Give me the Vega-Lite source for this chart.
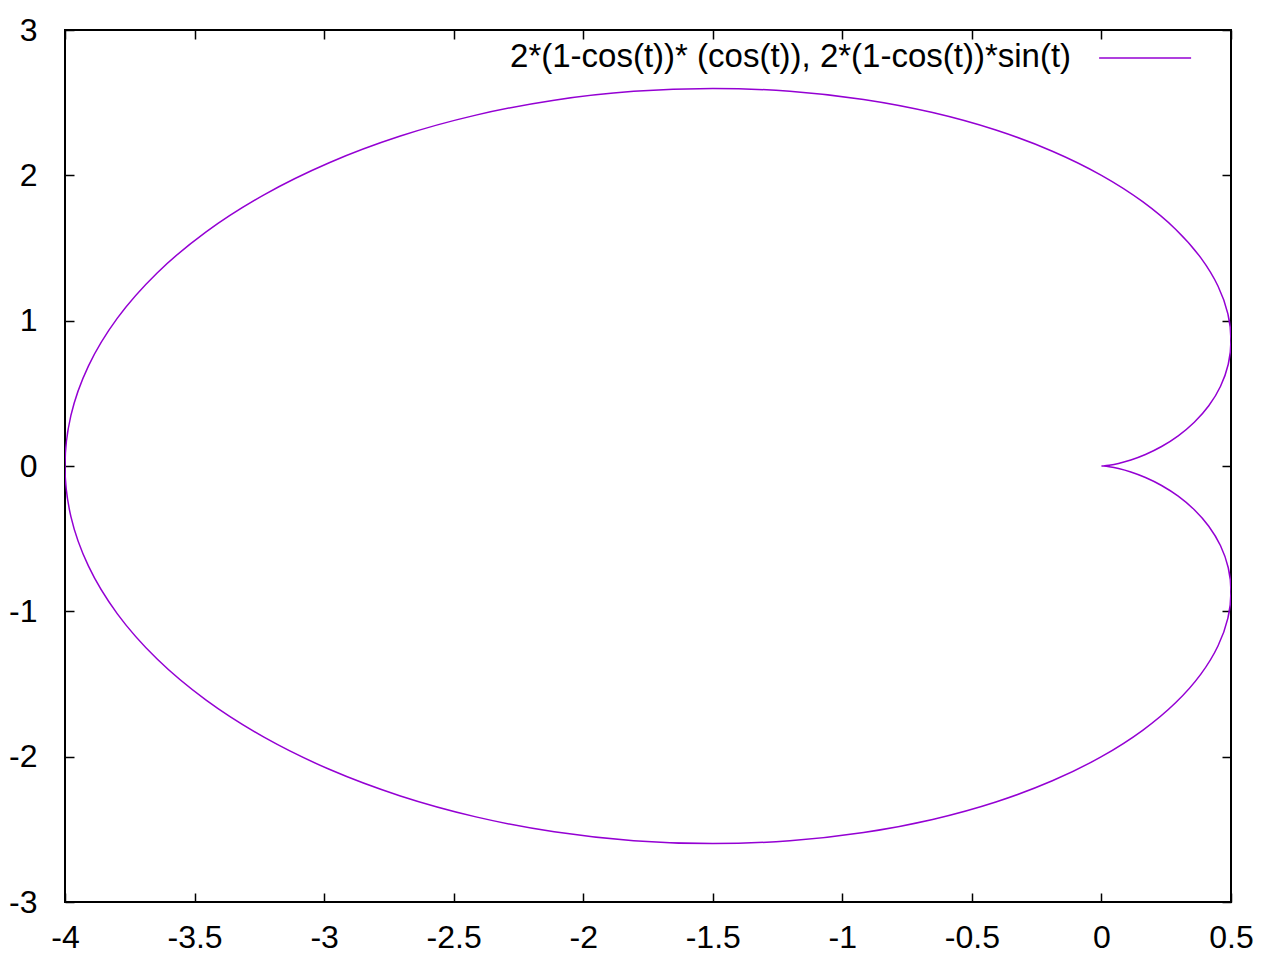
{
  "$schema": "https://vega.github.io/schema/vega-lite/v6.json",
  "width": 1166,
  "height": 872,
  "autosize": {"type": "none"},
  "padding": {"left": 65, "top": 30, "right": 39, "bottom": 58},
  "background": "white",
  "config": {
    "view": {"stroke": "black", "strokeWidth": 2},
    "font": "Liberation Sans",
    "axis": {
      "grid": false,
      "domain": false,
      "tickColor": "black",
      "tickWidth": 1.5,
      "tickSize": -9,
      "labelFont": "Liberation Sans",
      "labelFontSize": 32,
      "labelColor": "black",
      "labelFlush": false,
      "labelOverlap": false,
      "labelBound": false,
      "title": null
    }
  },
  "datasets": {
    "curve": [
      {"i": 0, "x": 0, "y": 0},
      {"i": 1, "x": 0.0076, "y": 0.0007},
      {"i": 2, "x": 0.0299, "y": 0.0053},
      {"i": 3, "x": 0.0658, "y": 0.0176},
      {"i": 4, "x": 0.1134, "y": 0.0413},
      {"i": 5, "x": 0.1698, "y": 0.0792},
      {"i": 6, "x": 0.2321, "y": 0.134},
      {"i": 7, "x": 0.2963, "y": 0.2075},
      {"i": 8, "x": 0.3584, "y": 0.3008},
      {"i": 9, "x": 0.4142, "y": 0.4142},
      {"i": 10, "x": 0.4592, "y": 0.5473},
      {"i": 11, "x": 0.4892, "y": 0.6986},
      {"i": 12, "x": 0.5, "y": 0.866},
      {"i": 13, "x": 0.488, "y": 1.0466},
      {"i": 14, "x": 0.4501, "y": 1.2366},
      {"i": 15, "x": 0.3837, "y": 1.4319},
      {"i": 16, "x": 0.287, "y": 1.6276},
      {"i": 17, "x": 0.1591, "y": 1.8187},
      {"i": 18, "x": 0, "y": 2},
      {"i": 19, "x": -0.1895, "y": 2.166},
      {"i": 20, "x": -0.4076, "y": 2.3117},
      {"i": 21, "x": -0.6516, "y": 2.4319},
      {"i": 22, "x": -0.918, "y": 2.5222},
      {"i": 23, "x": -1.2025, "y": 2.5787},
      {"i": 24, "x": -1.5, "y": 2.5981},
      {"i": 25, "x": -1.8051, "y": 2.578},
      {"i": 26, "x": -2.1119, "y": 2.5169},
      {"i": 27, "x": -2.4142, "y": 2.4142},
      {"i": 28, "x": -2.7057, "y": 2.2704},
      {"i": 29, "x": -2.9803, "y": 2.0869},
      {"i": 30, "x": -3.2321, "y": 1.866},
      {"i": 31, "x": -3.4554, "y": 1.6113},
      {"i": 32, "x": -3.6454, "y": 1.3268},
      {"i": 33, "x": -3.7979, "y": 1.0176},
      {"i": 34, "x": -3.9093, "y": 0.6893},
      {"i": 35, "x": -3.9772, "y": 0.348},
      {"i": 36, "x": -4, "y": 0},
      {"i": 37, "x": -3.9772, "y": -0.348},
      {"i": 38, "x": -3.9093, "y": -0.6893},
      {"i": 39, "x": -3.7979, "y": -1.0176},
      {"i": 40, "x": -3.6454, "y": -1.3268},
      {"i": 41, "x": -3.4554, "y": -1.6113},
      {"i": 42, "x": -3.2321, "y": -1.866},
      {"i": 43, "x": -2.9803, "y": -2.0869},
      {"i": 44, "x": -2.7057, "y": -2.2704},
      {"i": 45, "x": -2.4142, "y": -2.4142},
      {"i": 46, "x": -2.1119, "y": -2.5169},
      {"i": 47, "x": -1.8051, "y": -2.578},
      {"i": 48, "x": -1.5, "y": -2.5981},
      {"i": 49, "x": -1.2025, "y": -2.5787},
      {"i": 50, "x": -0.918, "y": -2.5222},
      {"i": 51, "x": -0.6516, "y": -2.4319},
      {"i": 52, "x": -0.4076, "y": -2.3117},
      {"i": 53, "x": -0.1895, "y": -2.166},
      {"i": 54, "x": 0, "y": -2},
      {"i": 55, "x": 0.1591, "y": -1.8187},
      {"i": 56, "x": 0.287, "y": -1.6276},
      {"i": 57, "x": 0.3837, "y": -1.4319},
      {"i": 58, "x": 0.4501, "y": -1.2366},
      {"i": 59, "x": 0.488, "y": -1.0466},
      {"i": 60, "x": 0.5, "y": -0.866},
      {"i": 61, "x": 0.4892, "y": -0.6986},
      {"i": 62, "x": 0.4592, "y": -0.5473},
      {"i": 63, "x": 0.4142, "y": -0.4142},
      {"i": 64, "x": 0.3584, "y": -0.3008},
      {"i": 65, "x": 0.2963, "y": -0.2075},
      {"i": 66, "x": 0.2321, "y": -0.134},
      {"i": 67, "x": 0.1698, "y": -0.0792},
      {"i": 68, "x": 0.1134, "y": -0.0413},
      {"i": 69, "x": 0.0658, "y": -0.0176},
      {"i": 70, "x": 0.0299, "y": -0.0053},
      {"i": 71, "x": 0.0076, "y": -0.0007},
      {"i": 72, "x": 0, "y": 0}
    ],
    "legend": [
      {"label": "2*(1-cos(t))* (cos(t)), 2*(1-cos(t))*sin(t)", "tx": -0.117, "ty": 2.814, "x0": -0.009, "x1": 0.346, "ly": 2.807}
    ]
  },
  "resolve": {"axis": {"x": "independent", "y": "independent"}},
  "layer": [
    {
      "data": {"name": "curve"},
      "mark": {"type": "line", "color": "#9400D3", "strokeWidth": 1.5, "clip": true, "interpolate": "catmull-rom"},
      "encoding": {
        "x": {
          "field": "x", "type": "quantitative",
          "scale": {"domain": [-4, 0.5], "nice": false, "zero": false},
          "axis": {"orient": "bottom", "values": [-4, -3.5, -3, -2.5, -2, -1.5, -1, -0.5, 0, 0.5], "labelExpr": "'' + datum.value", "labelPadding": 29.5}
        },
        "y": {
          "field": "y", "type": "quantitative",
          "scale": {"domain": [-3, 3], "nice": false, "zero": false},
          "axis": {"orient": "left", "values": [-3, -2, -1, 0, 1, 2, 3], "labelExpr": "'' + datum.value", "labelPadding": 37}
        },
        "order": {"field": "i", "type": "quantitative"}
      }
    },
    {
      "data": {"name": "legend"},
      "layer": [
        {
          "mark": {"type": "text", "align": "right", "baseline": "middle", "fontSize": 33, "font": "Liberation Sans", "color": "black"},
          "encoding": {
            "x": {"field": "tx", "type": "quantitative", "axis": {"orient": "top", "values": [-4, -3.5, -3, -2.5, -2, -1.5, -1, -0.5, 0, 0.5], "labels": false}},
            "y": {"field": "ty", "type": "quantitative", "axis": {"orient": "right", "values": [-3, -2, -1, 0, 1, 2, 3], "labels": false}},
            "text": {"field": "label"}
          }
        },
        {
          "mark": {"type": "rule", "color": "#9400D3", "strokeWidth": 1.5},
          "encoding": {
            "x": {"field": "x0", "type": "quantitative"},
            "x2": {"field": "x1"},
            "y": {"field": "ly", "type": "quantitative"}
          }
        }
      ]
    }
  ]
}
